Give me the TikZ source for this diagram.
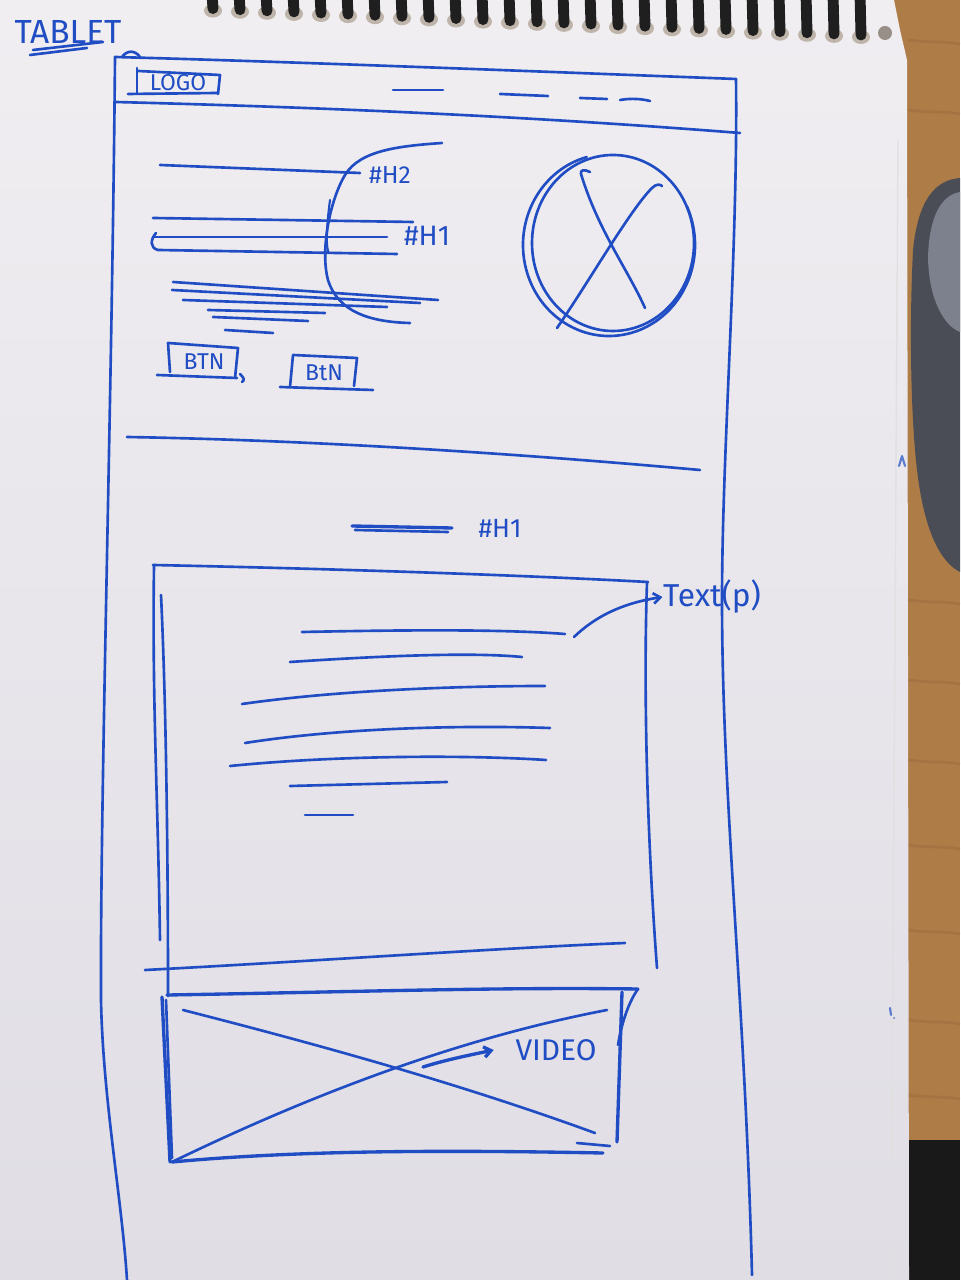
\documentclass[tikz,border=0pt]{standalone}
\usepackage{fontspec}
\setmainfont{Fira Sans}
\usetikzlibrary{arrows.meta}
\definecolor{ink}{RGB}{32,76,196}
\definecolor{papertop}{RGB}{240,238,241}
\definecolor{paperbot}{RGB}{224,221,229}
\definecolor{wood}{RGB}{174,124,70}
\definecolor{grain}{RGB}{146,100,56}
\definecolor{mousedark}{RGB}{74,77,86}
\definecolor{mouselight}{RGB}{124,129,141}
\definecolor{hole}{RGB}{190,180,170}
\begin{document}
\begin{tikzpicture}[x=0.01cm,y=-0.01cm,
  pen/.style={draw=ink,line width=0.75pt,line cap=round,line join=round},
  heavypen/.style={pen,line width=0.95pt},
  lightpen/.style={pen,line width=0.6pt},
  barb/.style={-{Straight Barb[length=2pt,width=3pt]}},
  lbl/.style={text=ink,inner sep=0pt,anchor=center},
  grainline/.style={draw=grain,line width=0.8pt,opacity=0.35}]
\useasboundingbox (0,0) rectangle (960,1280);

% ---- desk, mouse and sheet ----
\fill[wood] (880,0) rectangle (960,1140);
\fill[black!90] (880,1140) rectangle (960,1280);
\foreach \g in {40,110,600,680,760,845,930,1020,1095}
  \draw[grainline] (908,\g) .. controls (930,\g+3) and (945,\g+1) .. (960,\g+4);
\fill[mousedark] (960,178) .. controls (935,180) and (918,200) .. (913,250)
  .. controls (909,330) and (911,420) .. (917,470)
  .. controls (924,530) and (940,562) .. (960,572) -- cycle;
\fill[mouselight] (960,192) .. controls (942,195) and (929,215) .. (928,258)
  .. controls (929,300) and (944,326) .. (960,332) -- cycle;
\shade[top color=papertop,bottom color=paperbot]
  (0,0) -- (894,0) -- (900,30) -- (907,60) -- (909,1280) -- (0,1280) -- cycle;
\draw[black!12,line width=0.4pt] (898,140) -- (891,1280);

% ---- spiral binding ----
\foreach \i in {0,...,24}{
  \pgfmathsetmacro{\cx}{860-27*\i}
  \pgfmathsetmacro{\cy}{37-1.1*\i}
  \fill[hole] (\cx+1,\cy) ellipse[x radius=9,y radius=7];
  \draw[black!88,line width=3.1pt,line cap=round] (\cx,-6) -- (\cx+1,\cy-2);
}
\fill[hole!80!black] (885,33) ellipse[x radius=7,y radius=7];

% ---- title ----
\node[lbl,font=\fontsize{9.5}{10}\selectfont] (title) at (68,32) {TABLET};
\draw[pen] (30,55) -- (87,48);
\draw[pen] (33,50) -- (103,42);

% ---- tablet frame ----
\draw[pen] (115,57) .. controls (300,62) and (550,72) .. (736,79);
\draw[pen] (122,57) .. controls (127,50) and (135,50) .. (140,57);
\draw[pen] (736,79) .. controls (738,250) and (722,450) .. (722,600)
  .. controls (722,800) and (745,1000) .. (752,1275);
\draw[pen] (115,57) .. controls (112,400) and (100,800) .. (101,1000)
  .. controls (103,1100) and (122,1200) .. (127,1280);
\draw[pen] (115,102) .. controls (350,108) and (550,118) .. (740,133);

% header: logo and navigation
\draw[pen] (137,68) -- (137,93);
\draw[pen] (138,71) -- (220,75) -- (218,94);
\draw[pen] (128,94) -- (218,93);
\node[lbl,font=\fontsize{6.5}{7}\selectfont] (logo) at (178,83) {LOGO};
\draw[pen] (393,90) -- (443,90);
\draw[pen] (500,94) -- (548,96);
\draw[pen] (580,98) -- (607,99);
\draw[pen] (620,100) .. controls (632,98) and (642,99) .. (650,101);

% ---- hero ----
\draw[pen] (160,165) -- (360,173);
\node[lbl,font=\fontsize{7}{8}\selectfont] (h2) at (390,175) {\#H2};
\draw[pen] (153,218) -- (413,222);
\draw[pen] (153,237) -- (387,237);
\draw[pen] (156,233) .. controls (150,240) and (150,248) .. (158,250) -- (397,254);
\node[lbl,font=\fontsize{8}{9}\selectfont] (h1a) at (427,236) {\#H1};
\draw[pen] (442,143) .. controls (400,146) and (360,150) .. (345,175)
  .. controls (330,200) and (320,250) .. (328,280)
  .. controls (338,312) and (370,322) .. (410,323);
\draw[lightpen] (330,200) .. controls (326,230) and (326,250) .. (329,253);
\draw[pen] (173,282) -- (438,300);
\draw[pen] (172,290) -- (420,303);
\draw[pen] (183,300) -- (387,307);
\draw[pen] (208,310) -- (325,313);
\draw[pen] (213,317) -- (308,321);
\draw[pen] (225,330) -- (273,333);

% buttons
\draw[pen] (170,372) -- (168,343) -- (238,348) -- (235,378);
\draw[pen] (157,375) -- (237,378);
\draw[pen] (240,374) .. controls (244,378) and (245,380) .. (242,382);
\node[lbl,font=\fontsize{6.5}{7}\selectfont] (btna) at (204,362) {BTN};
\draw[pen] (290,387) -- (293,355) -- (357,358) -- (354,386);
\draw[pen] (280,387) -- (373,390);
\node[lbl,font=\fontsize{6.5}{7}\selectfont] (btnb) at (324,373) {BtN};

% hero image placeholder
\draw[pen] (613,243) ellipse[x radius=81,y radius=88];
\draw[pen] ([shift={(255:86 and 91)}]609,245) arc[start angle=255,end angle=-25,x radius=86,y radius=91];
\draw[pen] (557,328) .. controls (590,280) and (630,210) .. (652,188)
  .. controls (656,184) and (660,184) .. (662,186);
\draw[pen] (590,172) .. controls (584,169) and (580,170) .. (581,174)
  .. controls (598,230) and (628,270) .. (645,308);

% section divider
\draw[pen] (127,437) .. controls (300,440) and (500,452) .. (700,470);

% ---- text section ----
\draw[heavypen] (352,526) -- (452,528);
\draw[pen] (355,530) -- (448,532);
\node[lbl,font=\fontsize{7.5}{8}\selectfont] (h1b) at (500,528) {\#H1};

\draw[pen] (153,565) .. controls (300,568) and (500,574) .. (648,582);
\draw[pen] (154,566) .. controls (152,700) and (158,800) .. (160,940);
\draw[pen] (161,595) .. controls (166,700) and (168,850) .. (168,996);
\draw[pen] (647,582) .. controls (643,700) and (648,850) .. (657,968);
\draw[pen] (145,970) .. controls (300,962) and (500,948) .. (625,943);

\draw[pen] (302,632) .. controls (400,630) and (500,629) .. (565,634);
\draw[pen] (290,662) .. controls (380,656) and (470,652) .. (522,657);
\draw[pen] (242,704) .. controls (340,690) and (460,686) .. (545,686);
\draw[pen] (245,743) .. controls (340,728) and (460,725) .. (550,728);
\draw[pen] (230,766) .. controls (340,755) and (470,755) .. (546,760);
\draw[pen] (290,786) -- (447,782);
\draw[pen] (305,815) -- (353,815);

\node[lbl,font=\fontsize{9}{10}\selectfont] (textp) at (712,597) {Text(p)};
\coordinate (textend) at (574,637);
\draw[pen,barb] (textend) .. controls (600,612) and (630,602) .. (textp.west);

% ---- video section ----
\draw[heavypen] (167,995) .. controls (350,992) and (500,987) .. (638,989);
\draw[heavypen] (162,997) -- (170,1162);
\draw[pen] (166,1000) -- (172,1158);
\draw[heavypen] (172,1162) .. controls (300,1150) and (450,1150) .. (603,1153);
\draw[heavypen] (622,992) -- (617,1142);
\draw[pen] (638,989) .. controls (630,1000) and (622,1020) .. (618,1045);
\draw[pen] (577,1143) -- (610,1146);
\draw[pen] (183,1010) .. controls (300,1040) and (450,1080) .. (595,1133);
\draw[pen] (172,1162) .. controls (300,1100) and (450,1040) .. (607,1010);
\node[lbl,font=\fontsize{8.5}{9}\selectfont] (video) at (556,1050) {VIDEO};
\coordinate (cross) at (423,1067);
\draw[heavypen,barb] (cross) .. controls (445,1060) and (470,1055) .. ([xshift=-6]video.west);

% faint marks at the sheet edge
\draw[lightpen,opacity=0.7] (899,466) -- (902,456) -- (905,466);
\draw[lightpen,opacity=0.7] (890,1008) -- (891,1015);
\fill[ink,opacity=0.7] (894,1018) circle[radius=1];
\end{tikzpicture}
\end{document}
